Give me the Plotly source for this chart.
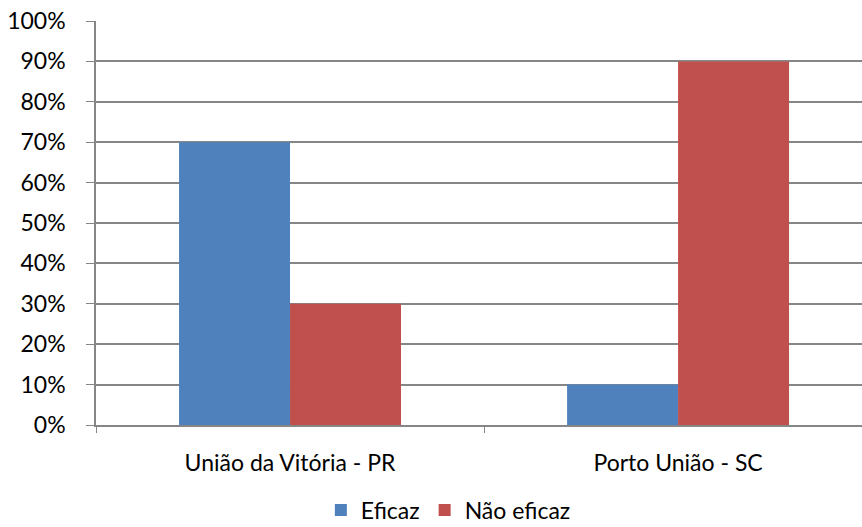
import plotly.graph_objects as go

categories = ["União da Vitória - PR", "Porto União - SC"]
eficaz = [0.70, 0.10]
nao_eficaz = [0.30, 0.90]

font_family = "Lato, Open Sans, sans-serif"

fig = go.Figure()
fig.add_trace(go.Bar(name="Eficaz", x=categories, y=eficaz, marker_color="#4F81BD",
                     marker_line_width=0))
fig.add_trace(go.Bar(name="Não eficaz", x=categories, y=nao_eficaz, marker_color="#C0504D",
                     marker_line_width=0))

fig.update_layout(
    width=862, height=527,
    margin=dict(l=96, r=0, t=21, b=102, autoexpand=False),
    paper_bgcolor="white", plot_bgcolor="white",
    barmode="group", bargap=0.428, bargroupgap=0,
    font=dict(family=font_family, size=23, color="#000000"),
    showlegend=True,
    legend=dict(orientation="h", x=0.46, xanchor="center",
                yref="container", y=0.032, yanchor="middle",
                font=dict(size=23), itemwidth=30, traceorder="normal"),
)
fig.update_xaxes(
    type="category", range=[-0.5, 1.474], automargin=False,
    tickson="boundaries", ticks="outside", ticklen=6, tickcolor="#868686",
    showline=True, linecolor="#868686", linewidth=1.5,
    showgrid=False, ticklabelstandoff=17,
)
fig.update_yaxes(
    range=[0, 1.0], dtick=0.1, tickformat=".0%", automargin=False,
    ticks="outside", ticklen=8, tickcolor="#868686",
    showline=True, linecolor="#868686", linewidth=1.5,
    showgrid=True, gridcolor="#868686", gridwidth=1.5,
    zeroline=False, ticklabelstandoff=16,
)

fig.write_html("out.html")
